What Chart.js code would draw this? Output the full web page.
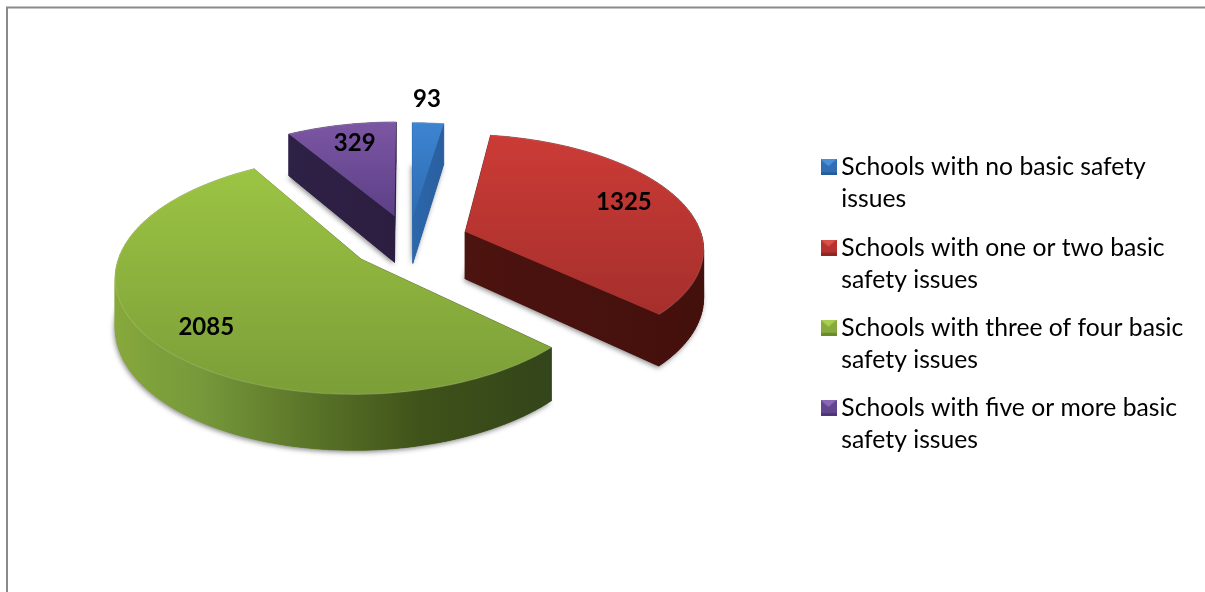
<!DOCTYPE html>
<html><head><meta charset="utf-8">
<style>html,body{margin:0;padding:0;background:#fff}canvas{display:block}</style>
<script src="https://cdn.jsdelivr.net/npm/chart.js@4"></script>
</head><body><canvas id="c" width="1205" height="592"></canvas>
<script>
const categories = [
  ['Schools with no basic safety', 'issues'],
  ['Schools with one or two basic', 'safety issues'],
  ['Schools with three of four basic', 'safety issues'],
  ['Schools with five or more basic', 'safety issues']
];
const values = [93, 1325, 2085, 329];
const sliceColors = ['#3a7fc8', '#c0392f', '#8fb640', '#6f4d97'];

// Styling / layout constants (not data)
const explode = [52, 60, 60, 56];
const topStops = [['#3d84d0', '#2d6cb2'], ['#cc3b36', '#a52f2c'], ['#9cc443', '#7b9e38'], ['#7c56a4', '#5c4086']];
const wallStops = [
  [[0, '#2b67ac'], [1, '#2a5f9f']],
  [[0, '#4c130f'], [1, '#44100c']],
  [[0, '#86a83c'], [0.2, '#76983a'], [0.45, '#5a7428'], [0.7, '#3f5219'], [1, '#33451a']],
  [[0, '#2e2146'], [1, '#2b1e40']]
];
const labelAnchor = [[0.375, 1.288], [0.48, 0.76], [0.479, 0.79], [0.53, 0.775]];
const PIE = {cx: 409, cy: 241, k: 0.4726, p: 0.000547, depth: 47.5};

function project(dx, dy, drop) {
  const s = 1 / (1 - PIE.p * dy);
  return [PIE.cx + dx * s, PIE.cy + PIE.k * dy * s + (drop ? PIE.depth * s : 0)];
}
function sliceGeom(arc) {
  const p = arc.getProps(['startAngle', 'endAngle', 'outerRadius']);
  const mid = (p.startAngle + p.endAngle) / 2, off = arc.options.offset;
  return {ox: Math.cos(mid) * off, oy: Math.sin(mid) * off, a0: p.startAngle, a1: p.endAngle, r: p.outerRadius};
}
function outline(g) {
  const pts = [[g.ox, g.oy]], n = Math.ceil((g.a1 - g.a0) / 0.03);
  for (let i = 0; i <= n; i++) {
    const a = g.a0 + (g.a1 - g.a0) * i / n;
    pts.push([g.ox + g.r * Math.cos(a), g.oy + g.r * Math.sin(a)]);
  }
  return pts;
}
function poly(ctx, pts) {
  ctx.beginPath();
  pts.forEach((q, i) => i ? ctx.lineTo(q[0], q[1]) : ctx.moveTo(q[0], q[1]));
  ctx.closePath();
}
const pie3d = {
  id: 'pie3d',
  beforeDraw(chart) {
    const ctx = chart.ctx;
    ctx.save();
    ctx.fillStyle = '#fff'; ctx.fillRect(0, 0, 1205, 592);
    ctx.strokeStyle = '#8a8a8a'; ctx.lineWidth = 2;
    ctx.beginPath(); ctx.moveTo(7, 592); ctx.lineTo(7, 7.5); ctx.lineTo(1205, 7.5); ctx.stroke();
    ctx.restore();
  },
  beforeDatasetsDraw(chart) {
    const ctx = chart.ctx, arcs = chart.getDatasetMeta(0).data;
    [3, 0, 1, 2].forEach(i => {
      const g = sliceGeom(arcs[i]), w = outline(g);
      const top = w.map(q => project(q[0], q[1], false));
      const bot = w.map(q => project(q[0], q[1], true));
      const xs = top.map(q => q[0]), ys = top.map(q => q[1]);
      const minX = Math.min(...xs), maxX = Math.max(...xs), minY = Math.min(...ys), maxY = Math.max(...ys);
      ctx.save();
      // soft shadow under the wall
      ctx.shadowColor = 'rgba(40,40,40,0.55)'; ctx.shadowBlur = 5; ctx.shadowOffsetX = -1; ctx.shadowOffsetY = 2;
      ctx.fillStyle = wallStops[i][0][1];
      poly(ctx, bot); ctx.fill();
      ctx.restore();
      // wall
      ctx.save();
      const wg = ctx.createLinearGradient(minX, 0, maxX, 0);
      wallStops[i].forEach(s => wg.addColorStop(s[0], s[1]));
      ctx.fillStyle = wg; ctx.strokeStyle = wg; ctx.lineWidth = 0.6;
      poly(ctx, bot); ctx.fill();
      for (let j = 0; j < top.length; j++) {
        const n = (j + 1) % top.length;
        poly(ctx, [top[j], top[n], bot[n], bot[j]]);
        ctx.fill(); ctx.stroke();
      }
      // top face
      const tg = ctx.createLinearGradient(0, minY, 0, maxY);
      tg.addColorStop(0, topStops[i][0]); tg.addColorStop(1, topStops[i][1]);
      ctx.fillStyle = tg;
      poly(ctx, top); ctx.fill();
      // thin rim light along outer edge
      ctx.strokeStyle = 'rgba(255,255,255,0.13)'; ctx.lineWidth = 1.2;
      ctx.beginPath();
      top.slice(1).forEach((q, j) => j ? ctx.lineTo(q[0], q[1]) : ctx.moveTo(q[0], q[1]));
      ctx.stroke();
      ctx.restore();
    });
    // value labels
    ctx.save();
    ctx.fillStyle = '#000'; ctx.font = 'bold 24px Lato'; ctx.textAlign = 'center'; ctx.textBaseline = 'middle';
    arcs.forEach((arc, i) => {
      const g = sliceGeom(arc), a = g.a0 + (g.a1 - g.a0) * labelAnchor[i][0], r = g.r * labelAnchor[i][1];
      const pt = project(g.ox + r * Math.cos(a), g.oy + r * Math.sin(a), false);
      ctx.fillText(String(values[i]), pt[0], pt[1]);
    });
    ctx.restore();
    return false;
  },
  afterLayout(chart) {
    const lg = chart.legend;
    lg.left = 812; lg.top = 139; lg.bottom = 592; lg.right = 1205;
  }
};
function swatch(col, dark, light) {
  const c = document.createElement('canvas'); c.width = 16; c.height = 16;
  const x = c.getContext('2d');
  x.fillStyle = col; x.fillRect(0, 0, 16, 16);
  x.fillStyle = light; x.beginPath(); x.moveTo(0, 0); x.lineTo(16, 0); x.lineTo(8, 7); x.closePath(); x.fill();
  x.fillStyle = dark; x.fillRect(0, 13, 16, 3);
  return c;
}
const swatches = [
  swatch('#2f6db5', '#265a98', '#4a8fd8'),
  swatch('#b5322e', '#8e2623', '#d9504a'),
  swatch('#86ab3c', '#6b8a2e', '#a8cf52'),
  swatch('#63458f', '#4e3674', '#8a67b4')
];
new Chart(document.getElementById('c'), {
  type: 'pie',
  data: {labels: categories, datasets: [{data: values, backgroundColor: sliceColors, offset: explode, borderWidth: 0}]},
  options: {
    responsive: false, animation: false, radius: 238, rotation: 0,
    plugins: {
      tooltip: {enabled: false},
      legend: {
        position: 'right', align: 'start',
        labels: {
          usePointStyle: true, pointStyleWidth: 1, boxHeight: 16, padding: 16,
          color: '#111', font: {family: 'Lato', size: 24.7, lineHeight: 1.3},
          generateLabels(chart) {
            return chart.data.labels.map((t, i) => ({text: t, fillStyle: sliceColors[i], strokeStyle: sliceColors[i], lineWidth: 0, pointStyle: swatches[i], index: i, hidden: false}));
          }
        }
      }
    }
  },
  plugins: [pie3d]
});
</script></body></html>
